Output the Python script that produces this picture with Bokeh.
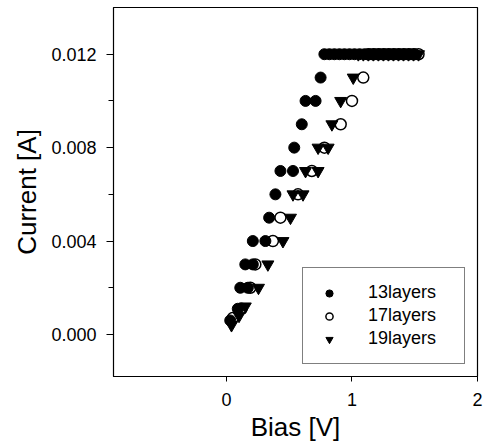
from bokeh.plotting import figure
from bokeh.models import Range1d, FixedTicker, Legend, LegendItem
from bokeh.embed import file_html
from bokeh.resources import INLINE

# ---- data ----
x13 = [0.03, 0.09, 0.11, 0.17, 0.15, 0.21, 0.21, 0.31, 0.34, 0.39, 0.43, 0.53,
       0.54, 0.60, 0.63, 0.71, 0.75,
       0.78, 0.82, 0.86, 0.90, 0.94, 0.98, 1.02, 1.06, 1.10, 1.14, 1.18, 1.22,
       1.26, 1.30, 1.34, 1.38, 1.42, 1.46, 1.50]
y13 = [0.0006, 0.0011, 0.002, 0.002, 0.003, 0.003, 0.004, 0.004, 0.005, 0.006,
       0.007, 0.007, 0.008, 0.009, 0.010, 0.010, 0.011,
       0.012, 0.012, 0.012, 0.012, 0.012, 0.012, 0.012, 0.012, 0.012, 0.012,
       0.012, 0.012, 0.012, 0.012, 0.012, 0.012, 0.012, 0.012, 0.012]

x17 = [0.05, 0.12, 0.19, 0.23, 0.37, 0.43, 0.57, 0.68, 0.78, 0.91, 1.00, 1.09,
       1.13, 1.17, 1.21, 1.25, 1.29, 1.33, 1.37, 1.41, 1.45, 1.49, 1.53]
y17 = [0.0007, 0.0011, 0.002, 0.003, 0.004, 0.005, 0.006, 0.007, 0.008, 0.009,
       0.010, 0.011,
       0.012, 0.012, 0.012, 0.012, 0.012, 0.012, 0.012, 0.012, 0.012, 0.012, 0.012]

x19 = [0.04, 0.10, 0.15, 0.255, 0.33, 0.45, 0.51, 0.53, 0.61, 0.63, 0.73, 0.73,
       0.81, 0.84, 0.91, 1.01,
       1.05, 1.09, 1.13, 1.17, 1.21, 1.25, 1.29, 1.33, 1.37, 1.41, 1.45, 1.49, 1.53]
y19 = [0.0004, 0.0008, 0.0012, 0.002, 0.003, 0.004, 0.005, 0.006, 0.006, 0.007,
       0.007, 0.008, 0.008, 0.009, 0.010, 0.011,
       0.012, 0.012, 0.012, 0.012, 0.012, 0.012, 0.012, 0.012, 0.012, 0.012,
       0.012, 0.012, 0.012]

x_ticks = [0, 1, 2]
y_ticks = [0.0, 0.004, 0.008, 0.012]
y_minor = [0.002, 0.006, 0.010]
y_tick_labels = ["0.000", "0.004", "0.008", "0.012"]
series_names = ["13layers", "17layers", "19layers"]

FONT = "Liberation Sans"

p = figure(width=484, height=448, output_backend="svg", toolbar_location=None,
           x_range=Range1d(-0.9, 2.0), y_range=Range1d(-0.0018, 0.014),
           min_border_left=113, min_border_right=7, min_border_top=7,
           min_border_bottom=72)
p.grid.visible = False
p.outline_line_color = "black"
p.outline_line_width = 1.2
p.background_fill_color = "white"
p.border_fill_color = "white"

r17 = p.scatter(x17, y17, marker="circle", size=11, fill_color="white",
                line_color="black", line_width=1.5)
r19 = p.scatter(x19, y19, marker="inverted_triangle", size=12,
                fill_color="black", line_color="black")
r13 = p.scatter(x13, y13, marker="circle", size=11, fill_color="black",
                line_color="black")

# axes
xa = p.xaxis[0]
xa.ticker = FixedTicker(ticks=x_ticks, minor_ticks=[])
xa.axis_label = "Bias [V]"
xa.axis_label_text_font = FONT
xa.axis_label_text_font_size = "26px"
xa.axis_label_text_font_style = "normal"
xa.axis_label_text_color = "black"
xa.axis_label_standoff = 3
xa.major_label_text_font = FONT
xa.major_label_text_font_size = "18px"
xa.major_label_text_color = "black"
xa.major_label_standoff = 11
xa.major_tick_out = 5
xa.major_tick_in = 0
xa.minor_tick_out = 0
xa.minor_tick_in = 0
xa.axis_line_color = "black"
xa.major_tick_line_color = "black"

ya = p.yaxis[0]
ya.ticker = FixedTicker(ticks=y_ticks, minor_ticks=y_minor)
ya.major_label_overrides = {t: l for t, l in zip(y_ticks, y_tick_labels)}
ya.axis_label = "Current [A]"
ya.axis_label_text_font = FONT
ya.axis_label_text_font_size = "26px"
ya.axis_label_text_font_style = "normal"
ya.axis_label_text_color = "black"
ya.axis_label_standoff = 6
ya.major_label_text_font = FONT
ya.major_label_text_font_size = "18px"
ya.major_label_text_color = "black"
ya.major_label_standoff = 10
ya.major_tick_out = 7
ya.major_tick_in = 0
ya.minor_tick_out = 5
ya.minor_tick_in = 0
ya.axis_line_color = "black"
ya.major_tick_line_color = "black"
ya.minor_tick_line_color = "black"

legend = Legend(items=[LegendItem(label=series_names[0], renderers=[r13]),
                       LegendItem(label=series_names[1], renderers=[r17]),
                       LegendItem(label=series_names[2], renderers=[r19])],
                location="bottom_right")
legend.margin = 12
legend.padding = 14
legend.spacing = 2
legend.glyph_width = 24
legend.glyph_height = 18
legend.label_height = 18
legend.label_width = 82
legend.label_standoff = 27
legend.label_text_font = FONT
legend.label_text_font_size = "18px"
legend.label_text_color = "black"
legend.label_text_line_height = 1.0
legend.border_line_color = "black"
legend.border_line_width = 1.2
legend.background_fill_alpha = 1.0
p.add_layout(legend)

open("out.html", "w").write(file_html(p, INLINE))
